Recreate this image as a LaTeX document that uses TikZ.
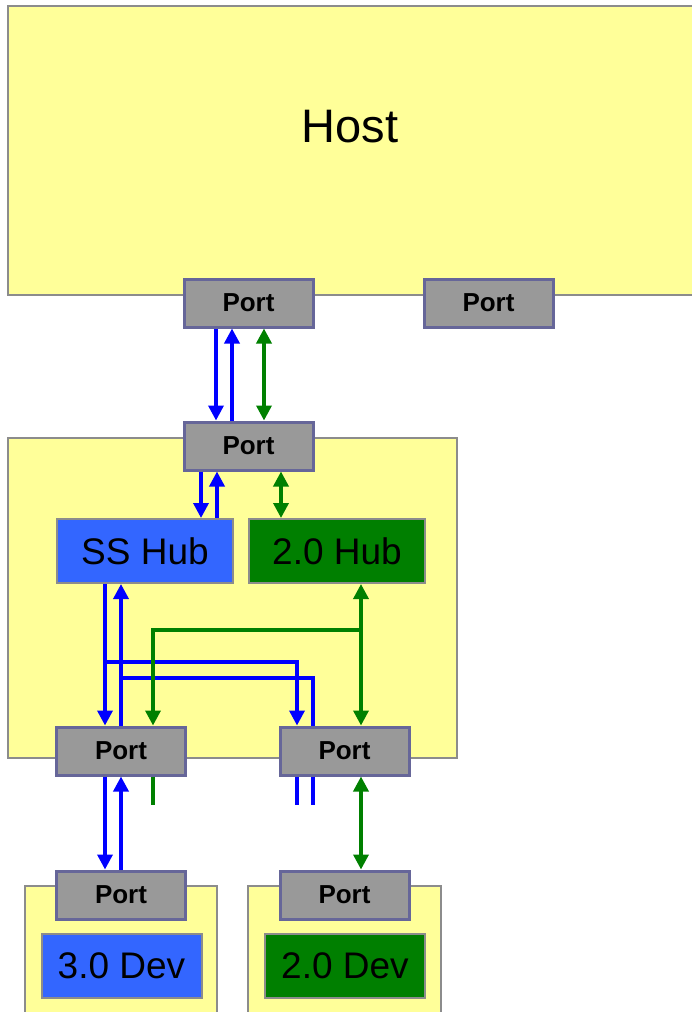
\documentclass[tikz,border=0pt]{standalone}
\usepackage{fontspec}
\setmainfont{Liberation Sans}
\usepackage{tikz}
\usetikzlibrary{arrows.meta, calc}
\definecolor{boxyellow}{HTML}{FFFF99}
\definecolor{portgray}{HTML}{999999}
\definecolor{portedge}{HTML}{666699}
\definecolor{boxedge}{HTML}{8C8C8C}
\definecolor{ssfill}{HTML}{3366FF}
\definecolor{hsfill}{HTML}{007F00}
\definecolor{ssline}{HTML}{0000FF}
\definecolor{hsline}{HTML}{008000}
\tikzset{
  portbox/.style={draw=portedge, line width=3pt, fill=portgray, minimum width=129pt, minimum height=48pt, inner sep=0pt, font=\fontsize{26}{30}\selectfont\bfseries},
  unitbox/.style={draw=boxedge, line width=2pt, fill=boxyellow},
  hubbox/.style={draw=boxedge, line width=2pt, minimum width=176pt, minimum height=64pt, inner sep=0pt, font=\fontsize{37}{44}\selectfont},
  sslink/.style={draw=ssline, line width=3.5pt},
  hslink/.style={draw=hsline, line width=3.5pt},
}
\begin{document}
\begin{tikzpicture}[x=1pt, y=-1pt, >={Triangle[length=15pt,width=15pt]}]
\useasboundingbox (0,0) rectangle (692,1012);
\begin{scope}
  \draw[unitbox] (8,6) rectangle (720,295);
  \node[font=\fontsize{47}{56}\selectfont] (host) at (350,127) {Host};
  \node[portbox] (hp1) at (248.5,303) {Port};
  \node[portbox] (hp2) at (488.5,303) {Port};
\end{scope}
\begin{scope}
  \draw[unitbox] (8,438) rectangle (457,758);
  \node[portbox] (up) at (248.5,446) {Port};
  \node[hubbox, fill=ssfill] (sshub) at (145,551) {SS Hub};
  \node[hubbox, fill=hsfill] (hshub) at (337,551) {2.0 Hub};
  \node[portbox] (dp1) at (121,751) {Port};
  \node[portbox] (dp2) at (344.5,751) {Port};
\end{scope}
\begin{scope}
  \draw[unitbox] (25,886) rectangle (217,1030);
  \draw[unitbox] (248,886) rectangle (441,1030);
  \node[portbox] (ep1) at (121,895) {Port};
  \node[portbox] (ep2) at (344.5,895) {Port};
  \node[hubbox, fill=ssfill, minimum width=160pt] (dev30) at (121.5,966) {3.0 Dev};
  \node[hubbox, fill=hsfill, minimum width=160pt] (dev20) at (345,966) {2.0 Dev};
\end{scope}
\coordinate (ssa) at (105,662);
\coordinate (ssb) at (121,678);
\coordinate (hsa) at (361,630);
\coordinate (stubg) at (153,805);
\coordinate (stuba) at (297,805);
\coordinate (stubb) at (313,805);
\draw[sslink,->] ([xshift=-32.5]hp1.south) -- ([xshift=-32.5]up.north);
\draw[sslink,<-] ([xshift=-16.5]hp1.south) -- ([xshift=-16.5]up.north);
\draw[hslink,<->] ([xshift=15.5]hp1.south) -- ([xshift=15.5]up.north);
\draw[sslink,->] ([xshift=-47.5]up.south) -- ([xshift=56]sshub.north);
\draw[sslink,<-] ([xshift=-31.5]up.south) -- ([xshift=72]sshub.north);
\draw[hslink,<->] ([xshift=32.5]up.south) -- ([xshift=-56]hshub.north);
\draw[sslink,->] ([xshift=-40]sshub.south) -- ([xshift=-16]dp1.north);
\draw[sslink,<-] ([xshift=-24]sshub.south) -- (dp1.north);
\draw[sslink,->] (ssa) -| ([xshift=-47.5]dp2.north);
\draw[sslink] (ssb) -| ([xshift=-31.5]dp2.north);
\draw[hslink,<->] ([xshift=24]hshub.south) -- ([xshift=16.5]dp2.north);
\draw[hslink,->] (hsa) -| ([xshift=32]dp1.north);
\draw[sslink,->] ([xshift=-16]dp1.south) -- ([xshift=-16]ep1.north);
\draw[sslink,<-] (dp1.south) -- (ep1.north);
\draw[hslink] ([xshift=32]dp1.south) -- (stubg);
\draw[sslink] ([xshift=-47.5]dp2.south) -- (stuba);
\draw[sslink] ([xshift=-31.5]dp2.south) -- (stubb);
\draw[hslink,<->] ([xshift=16.5]dp2.south) -- ([xshift=16.5]ep2.north);
\end{tikzpicture}
\end{document}
